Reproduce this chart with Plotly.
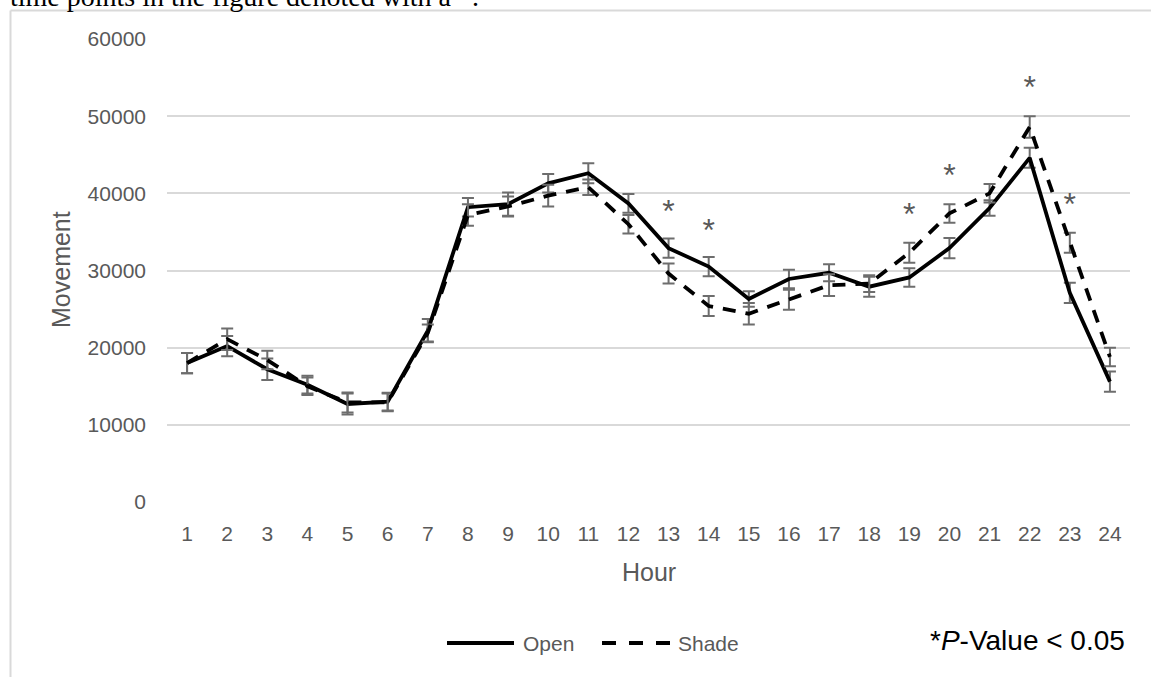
import plotly.graph_objects as go

hours = list(range(1, 25))
open_mean = [18000, 20200, 17200, 15200, 12700, 13000, 22200, 38200, 38600, 41300, 42600, 38700,
             32900, 30500, 26300, 28900, 29700, 27900, 29100, 32900, 38100, 44600, 27100, 15600]
open_err = [1300, 1300, 1400, 1150, 1350, 1150, 1500, 1200, 1500, 1200, 1300, 1200,
            1250, 1250, 1000, 1200, 1100, 1300, 1200, 1300, 1000, 1300, 1300, 1300]
shade_mean = [18000, 21100, 18400, 15000, 12900, 12900, 21900, 37200, 38300, 39700, 40800, 36000,
              29600, 25400, 24400, 26200, 28100, 28300, 32300, 37400, 40000, 48600, 33600, 18800]
shade_err = [1300, 1400, 1200, 1150, 1300, 1150, 1100, 1400, 1300, 1400, 1000, 1200,
             1300, 1300, 1400, 1300, 1400, 1100, 1300, 1200, 1200, 1400, 1300, 1200]
star_hours = [13, 14, 19, 20, 22, 23]
star_y = [37360, 34890, 36930, 41940, 53390, 38190]
y_ticks = [0, 10000, 20000, 30000, 40000, 50000, 60000]

FONT = "Liberation Sans"
GRAY = "#595959"
ERR = "#6d6d6d"

# pixel geometry of plot area
L, R, T, B = 167, 1130, 39, 502
W, H = 1151, 677
PW, PH = R - L, B - T


def px(x):
    return (x - L) / PW


def py(y):
    return (B - y) / PH


fig = go.Figure()
fig.add_trace(go.Scatter(
    x=hours, y=open_mean, mode="lines", name="Open",
    line=dict(color="black", width=3.8),
    error_y=dict(type="data", array=open_err, visible=True, color=ERR, thickness=2, width=6),
    showlegend=False))
fig.add_trace(go.Scatter(
    x=hours, y=shade_mean, mode="lines", name="Shade",
    line=dict(color="black", width=3.8, dash="13px,10px"),
    error_y=dict(type="data", array=shade_err, visible=True, color=ERR, thickness=2, width=6),
    showlegend=False))
fig.add_trace(go.Scatter(
    x=star_hours, y=star_y, mode="text", text=["*"] * len(star_hours),
    textfont=dict(family=FONT, size=32, color=GRAY), textposition="middle center",
    showlegend=False, hoverinfo="skip"))

fig.update_layout(
    width=W, height=H, autosize=False,
    margin=dict(l=L, r=W - R, t=T, b=H - B, pad=0),
    plot_bgcolor="white", paper_bgcolor="white",
    font=dict(family=FONT, color=GRAY),
    showlegend=False,
)
fig.update_xaxes(
    type="linear", range=[0.5, 24.5], tickmode="array", tickvals=hours,
    ticktext=[str(h) for h in hours], showgrid=False, zeroline=False, showline=False,
    ticks="", tickfont=dict(family=FONT, size=21, color=GRAY), ticklabelstandoff=17)
fig.update_yaxes(
    range=[0, 60000], tickmode="array", tickvals=y_ticks, ticktext=[str(v) for v in y_ticks],
    showgrid=True, gridcolor="#d9d9d9", gridwidth=1.5, zeroline=False, showline=False,
    ticks="", tickfont=dict(family=FONT, size=21, color=GRAY), ticklabelstandoff=20)

shapes = [
    # outer chart border (top and left visible)
    dict(type="line", xref="paper", yref="paper", x0=px(10.5), x1=px(1170), y0=py(10.5), y1=py(10.5),
         line=dict(color="#d9d9d9", width=2)),
    dict(type="line", xref="paper", yref="paper", x0=px(10.5), x1=px(10.5), y0=py(10.5), y1=py(700),
         line=dict(color="#d9d9d9", width=2)),
    # legend samples
    dict(type="line", xref="paper", yref="paper", x0=px(447), x1=px(514), y0=py(643), y1=py(643),
         line=dict(color="black", width=4)),
    dict(type="line", xref="paper", yref="paper", x0=px(602), x1=px(670), y0=py(643), y1=py(643),
         line=dict(color="black", width=4, dash="14px,13px")),
]
fig.update_layout(shapes=shapes)

ann = [
    dict(text="Movement", x=px(61), y=py(270), textangle=-90,
         font=dict(family=FONT, size=25, color=GRAY)),
    dict(text="Hour", x=px(649), y=py(572),
         font=dict(family=FONT, size=25, color=GRAY)),
    dict(text="Open", x=px(521), y=py(643), xanchor="left",
         font=dict(family=FONT, size=21, color=GRAY)),
    dict(text="Shade", x=px(676), y=py(643), xanchor="left",
         font=dict(family=FONT, size=21, color=GRAY)),
    dict(text="*<i>P</i>-Value &lt; 0.05", x=px(1027), y=py(640),
         font=dict(family=FONT, size=28, color="black")),
    dict(text="time points in the figure denoted with a *.", x=px(8), y=py(-4), xanchor="left",
         font=dict(family="Liberation Serif", size=28, color="black")),
]
for a in ann:
    a.update(xref="paper", yref="paper", showarrow=False)
    a.setdefault("xanchor", "center")
    a.setdefault("yanchor", "middle")
fig.update_layout(annotations=ann)

fig.write_html("out.html", config={"displayModeBar": False},
               post_script="document.body.style.margin='0';document.body.style.overflow='hidden';")
